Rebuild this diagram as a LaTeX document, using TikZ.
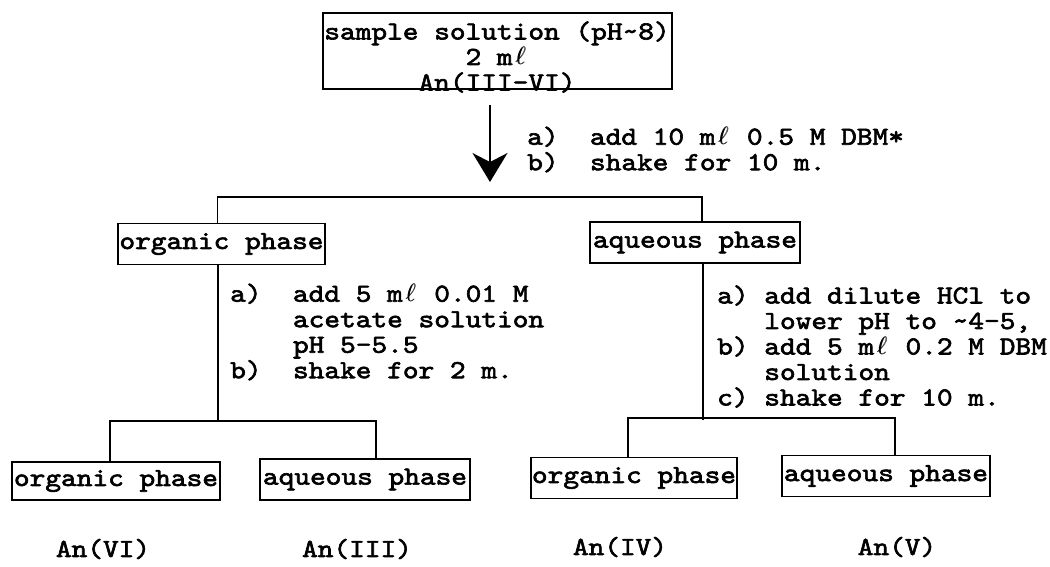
\documentclass[tikz,border=0pt]{standalone}
\usepackage{fontspec}
\newfontfamily\tw[FakeStretch=1.15,FakeBold=2.4]{lmmono10-regular.otf}
\newcommand{\litre}{\makebox[15.7pt]{\rlap{$\ell$}\kern0.7pt$\ell$}}
\usetikzlibrary{arrows.meta,calc}
\begin{document}
\begin{tikzpicture}[x=1pt,y=-1pt,
  every node/.style={font={\tw\fontsize{26}{25.5}\selectfont}, inner sep=0pt},
  box/.style={draw, line width=1.8pt, fill=white, minimum height=41pt},
  conn/.style={line width=1.8pt},
  txt/.style={align=left, anchor=west}]
\useasboundingbox (0,0) rectangle (1050,566);

% top box
\node[box, minimum width=349pt, minimum height=76pt] (top) at (497.5,51) {};
\node[align=center] (toptext) at (497,57) {sample solution (pH\textasciitilde8)\\2 m\litre\\An(III-VI)};

% main arrow
\coordinate (arrE) at (490,182);
\draw[conn, -{Stealth[length=29pt,width=35pt,inset=9pt]}] ($(top.south)+(-7.5,15)$) -- (arrE);
\node[txt] (lab0) at (527,149.5) {a)\ \ add 10 m\litre\ 0.5 M DBM*\\b)\ \ shake for 10 m.};

% level 2
\node[box, minimum width=207pt] (org) at (221.5,244) {organic phase};
\node[box, minimum width=210pt] (aq) at (695,242.5) {aqueous phase};
\draw[conn] ([xshift=-4pt]org.north) -- ++(0,-25.5) -| ([xshift=7pt]aq.north);

% procedure texts
\node[txt] (lab1) at (230,332) {a)\ \ add 5 m\litre\ 0.01 M\\\phantom{a)\ \ }acetate solution\\\phantom{a)\ \ }pH 5-5.5\\b)\ \ shake for 2 m.};
\node[txt] (lab2) at (717,346.5) {a)\ add dilute HCl to\\\phantom{a)\ }lower pH to \textasciitilde4-5,\\b)\ add 5 m\litre\ 0.2 M DBM\\\phantom{a)\ }solution\\c)\ shake for 10 m.};

% level 3
\node[box, minimum width=208pt, minimum height=38pt] (o1) at (116,481) {organic phase};
\node[box, minimum width=210pt] (a1) at (365,479.5) {aqueous phase};
\node[box, minimum width=206pt] (o2) at (634,478) {organic phase};
\node[box, minimum width=208pt] (a2) at (886,476) {aqueous phase};

\draw[conn] ([xshift=-3.5pt]org.south) -- ++(0,157);
\draw[conn] ([xshift=-6pt]o1.north) -- ++(0,-40) -| ([xshift=11pt]a1.north);
\draw[conn] ([xshift=8pt]aq.south) -- ++(0,156);
\draw[conn] ([xshift=-6pt]o2.north) -- ++(0,-39) -| ([xshift=9pt]a2.north);

% results
\node (r1) at (103,549) {An(VI)};
\node (r2) at (357,549) {An(III)};
\node (r3) at (620,547) {An(IV)};
\node (r4) at (897,547) {An(V)};
\end{tikzpicture}
\end{document}
